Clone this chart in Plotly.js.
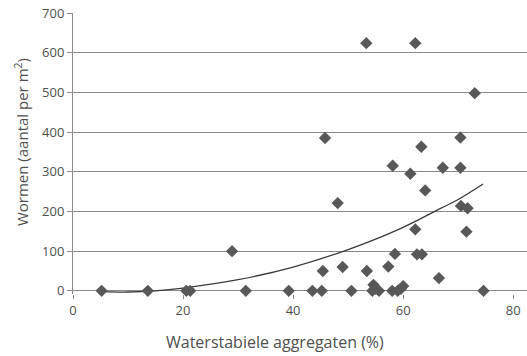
<!DOCTYPE html>
<html>
<head>
<meta charset="utf-8">
<script src="https://cdn.plot.ly/plotly-3.0.1.min.js"></script>
<style>html,body{margin:0;padding:0;background:#fff;}#chart{width:527px;height:356px;}</style>
</head>
<body>
<div id="chart"></div>
<script>
// Scatter points: waterstabiele aggregaten (%) vs wormen (aantal per m2)
var aggregaten = [5.2, 13.6, 20.6, 21.3, 28.9, 31.4, 39.2, 43.5, 45.2, 45.4, 45.8, 48.1, 49.0, 50.6, 53.4, 53.3, 54.4, 54.6, 55.0, 55.6, 57.3, 58.1, 58.5, 58.0, 59.0, 59.6, 60.0, 62.2, 61.3, 62.2, 62.5, 63.4, 63.3, 64.0, 66.5, 67.2, 70.4, 70.4, 70.5, 71.7, 71.5, 73.0, 74.6];
var wormen = [0, 0, 0, 0, 100, 0, 0, 0, 0, 50, 385, 221, 60, 0, 50, 624, 0, 15, 5, 0, 61, 315, 93, 0, 0, 5, 12, 624, 295, 155, 92, 92, 363, 253, 32, 310, 386, 310, 214, 208, 149, 498, 0];

// Trend curve
var trendX = [5.5, 10, 15, 20, 30, 40, 50, 60, 66.7, 70, 74.5];
var trendY = [-2, -3, 0, 7, 28, 60, 104, 160, 207, 230, 269];

var xTicks = [0, 20, 40, 60, 80];
var yTicks = [0, 100, 200, 300, 400, 500, 600, 700];

var grey = '#4f4f4f';
var fontFam = 'Open Sans, Noto Sans, sans-serif';

var traces = [
  {
    x: trendX, y: trendY, type: 'scatter', mode: 'lines',
    line: {color: '#3a3a3a', width: 1.3, shape: 'spline'},
    hoverinfo: 'skip'
  },
  {
    x: aggregaten, y: wormen, type: 'scatter', mode: 'markers',
    marker: {symbol: 'diamond', size: 9.5, color: '#585858'},
    cliponaxis: false
  }
];

var layout = {
  width: 527, height: 356,
  margin: {l: 73, r: 0, t: 13, b: 62},
  paper_bgcolor: '#fff', plot_bgcolor: '#fff',
  showlegend: false,
  font: {family: fontFam, size: 13, color: grey},
  xaxis: {
    range: [0, 82.5], tickvals: xTicks, ticktext: xTicks.map(String),
    showgrid: false, zeroline: false, showline: false,
    ticks: 'outside', ticklen: 4, tickcolor: '#888', tickwidth: 1,
    tickfont: {family: fontFam, size: 13, color: grey},
    fixedrange: true
  },
  yaxis: {
    range: [-8, 700], tickvals: yTicks, ticktext: yTicks.map(String),
    showgrid: true, gridcolor: '#8a8a8a', gridwidth: 1,
    zeroline: false, showline: true, linecolor: '#8a8a8a', linewidth: 1,
    ticks: 'outside', ticklen: 5, tickcolor: '#8a8a8a', tickwidth: 1,
    tickfont: {family: fontFam, size: 13, color: grey},
    fixedrange: true
  },
  annotations: [
    {
      text: 'Waterstabiele aggregaten (%)', xref: 'paper', yref: 'paper',
      x: 0.445, y: -0.17, xanchor: 'center', yanchor: 'middle', showarrow: false,
      font: {family: fontFam, size: 16, color: grey}
    },
    {
      text: 'Wormen (aantal per m<sup>2</sup>)', xref: 'paper', yref: 'paper',
      x: -0.115, y: 0.54, xanchor: 'center', yanchor: 'middle', showarrow: false,
      textangle: -90,
      font: {family: fontFam, size: 15, color: grey}
    }
  ]
};

Plotly.newPlot('chart', traces, layout, {displayModeBar: false, staticPlot: true});
</script>
</body>
</html>
